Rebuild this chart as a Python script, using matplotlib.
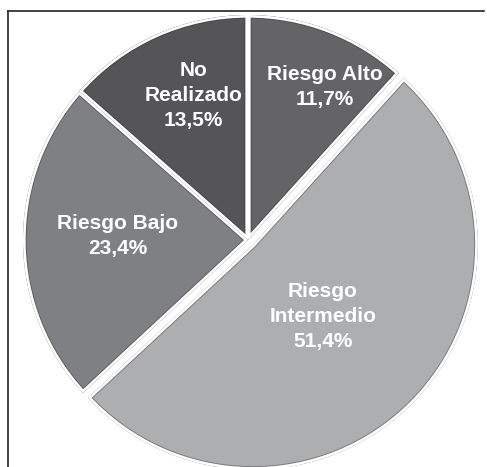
import matplotlib
matplotlib.use("Agg")
import matplotlib.pyplot as plt
from matplotlib.patches import Wedge
from matplotlib.lines import Line2D

categories = ["Riesgo Alto", "Riesgo Intermedio", "Riesgo Bajo", "No Realizado"]
label_texts = ["Riesgo Alto\n11,7%", "Riesgo\nIntermedio\n51,4%", "Riesgo Bajo\n23,4%", "No\nRealizado\n13,5%"]
values = [11.7, 51.4, 23.4, 13.5]
colors = ["#646467", "#adaeb0", "#7f8083", "#555558"]
explode = [0, 0.03, 0, 0]
label_pos = [(0.342, 0.68), (0.333, -0.342), (-0.578, 0.018), (-0.244, 0.644)]

fig = plt.figure(figsize=(4.87, 4.67), dpi=100)
ax = fig.add_axes([0, 0, 1, 1])
wedges, _ = ax.pie(values, colors=colors, explode=explode, startangle=90, counterclock=False,
                   wedgeprops=dict(linewidth=0))
for w in wedges:
    for lw, col, a in [(5.2, "#2e2e2e", 0.4), (3.8, "white", 1.0)]:
        s = Wedge(w.center, w.r, w.theta1, w.theta2, facecolor="none", edgecolor=col,
                  linewidth=lw, alpha=a, zorder=w.get_zorder() + 0.1)
        ax.add_patch(s)
        s.set_clip_path(w)
for (x, y), t in zip(label_pos, label_texts):
    ax.text(x, y, t, ha="center", va="center", multialignment="center", color="white",
            fontsize=15, fontweight="bold", family="Liberation Sans", linespacing=1.4, zorder=5)
ax.set_aspect("auto")
ax.set_xlim(-248 / 225, (487 - 248) / 225)
ax.set_ylim(-227 / 225, 240 / 225)
ax.axis("off")

W, H = 487, 467
fig.add_artist(Line2D([7.5 / W, 7.5 / W], [0, 1 - 10.5 / H], color="#222222", lw=1.2, transform=fig.transFigure))
fig.add_artist(Line2D([7.5 / W, 484 / W], [1 - 10.5 / H, 1 - 10.5 / H], color="#222222", lw=1.2, transform=fig.transFigure))

fig.savefig("out.png", dpi=100)
